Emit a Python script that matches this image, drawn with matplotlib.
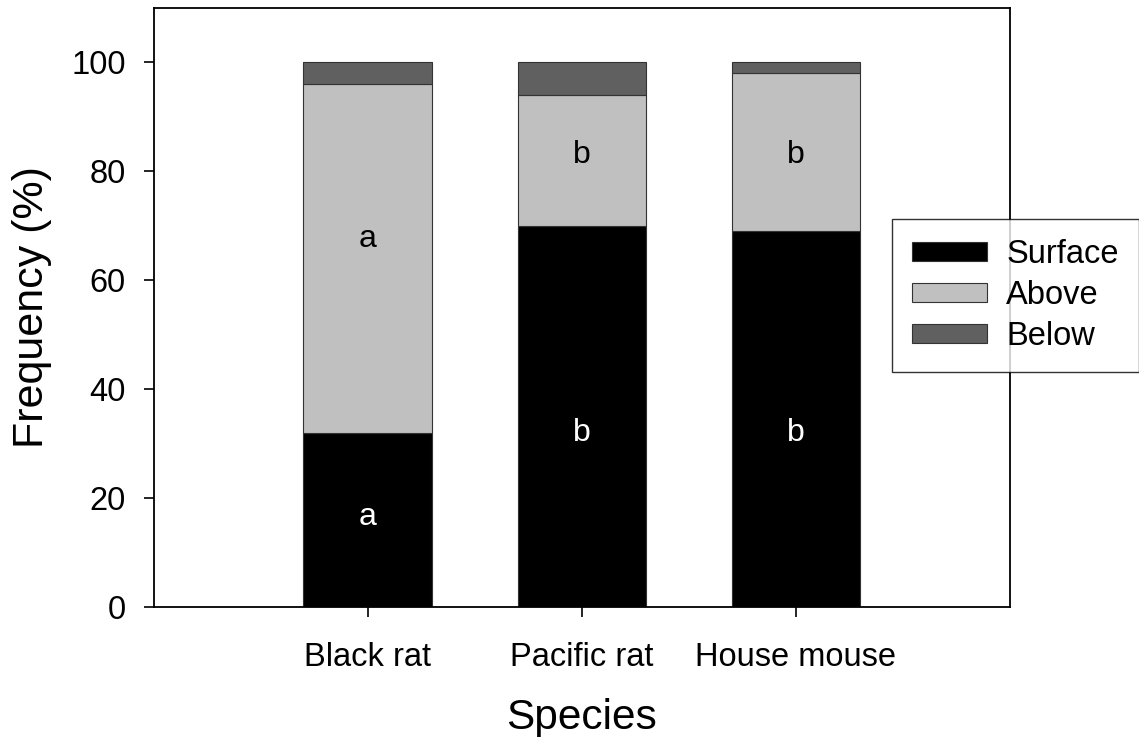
import matplotlib
matplotlib.use("Agg")
import matplotlib.pyplot as plt
import numpy as np

plt.rcParams['font.family'] = ['Liberation Sans', 'DejaVu Sans']

species = ["Black rat", "Pacific rat", "House mouse"]
surface = [32, 70, 69]
above = [64, 24, 29]
below = [4, 6, 2]
series_names = ["Surface", "Above", "Below"]
colors = ["#000000", "#c0c0c0", "#606060"]
surface_letters = ["a", "b", "b"]
above_letters = ["a", "b", "b"]
surface_letter_y = [16.5, 32, 32]
above_letter_y = [67.5, 83, 83]

fig = plt.figure(figsize=(11.39, 7.37), dpi=100)
ax = fig.add_axes([0.1348, 0.1764, 0.8868 - 0.1348, 0.9891 - 0.1764])

x = np.arange(1, len(species) + 1)
width = 0.6
bottom = np.zeros(len(species))
handles = []
for vals, name, col in zip([surface, above, below], series_names, colors):
    b = ax.bar(x, vals, width, bottom=bottom, color=col, edgecolor="#333333",
               linewidth=0.8, label=name)
    handles.append(b)
    bottom = bottom + np.array(vals)

for xi, t, y in zip(x, surface_letters, surface_letter_y):
    ax.text(xi, y, t, ha="center", va="center", color="white", fontsize=23)
for xi, t, y in zip(x, above_letters, above_letter_y):
    ax.text(xi, y, t, ha="center", va="center", color="black", fontsize=23)

ax.set_xlim(0, 4)
ax.set_ylim(0, 110)
ax.set_xticks(x)
ax.set_xticklabels(species, fontsize=23.5)
ax.set_yticks(np.arange(0, 101, 20))
ax.tick_params(axis="y", labelsize=23.5, length=7, width=1.2, direction="out", pad=13)
ax.tick_params(axis="x", length=7, width=1.2, direction="out", pad=18)
for s in ax.spines.values():
    s.set_linewidth(1.3)
ax.set_xlabel("Species", fontsize=30.5, labelpad=18)
ax.set_ylabel("Frequency (%)", fontsize=31, labelpad=14)

leg = fig.legend(handles=handles, labels=series_names, loc="upper left",
                 bbox_to_anchor=(892 / 1139, 1 - 219 / 737),
                 bbox_transform=fig.transFigure, borderaxespad=0,
                 fontsize=23.5, frameon=True, fancybox=False, edgecolor="black",
                 handlelength=2.3, handleheight=0.5, handletextpad=0.58,
                 labelspacing=0.3, borderpad=0.62)
leg.get_frame().set_linewidth(1.0)

fig.savefig("out.png", dpi=100)
